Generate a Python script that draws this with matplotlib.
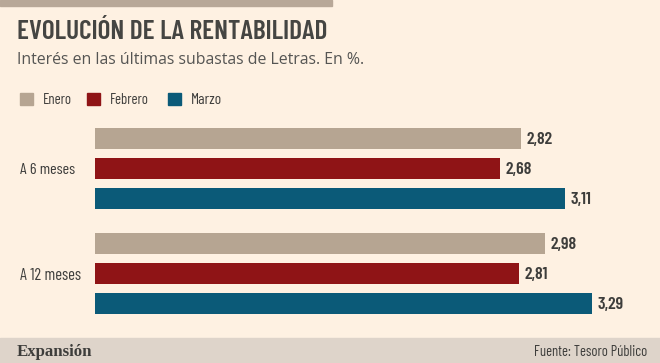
import matplotlib.pyplot as plt
from matplotlib.patches import Rectangle

plazos = ['A 6 meses', 'A 12 meses']
meses = ['Enero', 'Febrero', 'Marzo']
valores = {
    'Enero': [2.82, 2.98],
    'Febrero': [2.68, 2.81],
    'Marzo': [3.11, 3.29],
}
colores = {'Enero': '#B6A592', 'Febrero': '#8F1416', 'Marzo': '#0B5A78'}

W, H = 660, 363
BG = '#FEF1E2'
TXT = '#3d3d3b'
COND = 'Barlow Condensed'


def fx(px):
    return px / W


def fy(py):
    return 1 - py / H


fig = plt.figure(figsize=(W / 100, H / 100), dpi=100, facecolor=BG)
renderer = fig.canvas.get_renderer()


def fit(t, width):
    # scale font so the text is as wide as in the reference
    w = t.get_window_extent(renderer).width
    t.set_fontsize(t.get_fontsize() * width / w)


# top band and footer
fig.patches.append(Rectangle((0, fy(6)), fx(332), 6 / H, transform=fig.transFigure,
                             color='#B8A898', zorder=0))
fig.patches.append(Rectangle((0, 0), 1, fy(338), transform=fig.transFigure,
                             color='#DED4CA', zorder=0))

t = fig.text(fx(17), fy(39), 'EVOLUCIÓN DE LA RENTABILIDAD', family=COND, weight='semibold',
             fontsize=18, color='#454542', va='baseline')
fit(t, 310)
t = fig.text(fx(17), fy(64.5), 'Interés en las últimas subastas de Letras. En %.',
             family='Open Sans', fontsize=11.5, color='#555553', va='baseline')
fit(t, 350)

# legend
leg_x = [20, 87, 168]
leg_w = [29, 39, 31]
for m, lx, lw in zip(meses, leg_x, leg_w):
    fig.patches.append(Rectangle((fx(lx), fy(105)), 13 / W, 12 / H, transform=fig.transFigure,
                                 color=colores[m]))
    t = fig.text(fx(lx + 23), fy(103.5), m, family=COND, fontsize=10.5, color=TXT,
                 va='baseline')
    fit(t, lw)

ax = fig.add_axes([fx(95), fy(330), 1 - fx(95), (330 - 113) / H])
ax.set_facecolor('none')
step = 30.0
centros = [0, 3.5]
for i, m in enumerate(meses):
    ys = [c + (i - 1) for c in centros]
    ax.barh(ys, valores[m], height=21 / step, color=colores[m], edgecolor='none')
    for y, v in zip(ys, valores[m]):
        ax.text(v + 0.036, y + 0.03, f'{v:.2f}'.replace('.', ','), family=COND,
                weight='semibold', fontsize=12.8, color=TXT, va='center', ha='left')

ax.set_xlim(0, (W - 95) / 151)
ax.set_ylim((330 - 168.5) / step, (113 - 168.5) / step)
ax.axis('off')

for p, c, lw in zip(plazos, centros, [55, 61]):
    t = fig.text(fx(20), fy(170.5 + c * step), p, family=COND, fontsize=10.5, color=TXT,
                 va='center')
    fit(t, lw)

t = fig.text(fx(17), fy(356.5), 'Expansión', family='Liberation Serif', weight='bold',
             fontsize=13, color='#3d3d3b', va='baseline')
fit(t, 75)
t = fig.text(fx(647), fy(356), 'Fuente: Tesoro Público', family=COND, fontsize=10,
             color=TXT, ha='right', va='baseline')
fit(t, 114)

fig.savefig('out.png', dpi=100, facecolor=BG)
